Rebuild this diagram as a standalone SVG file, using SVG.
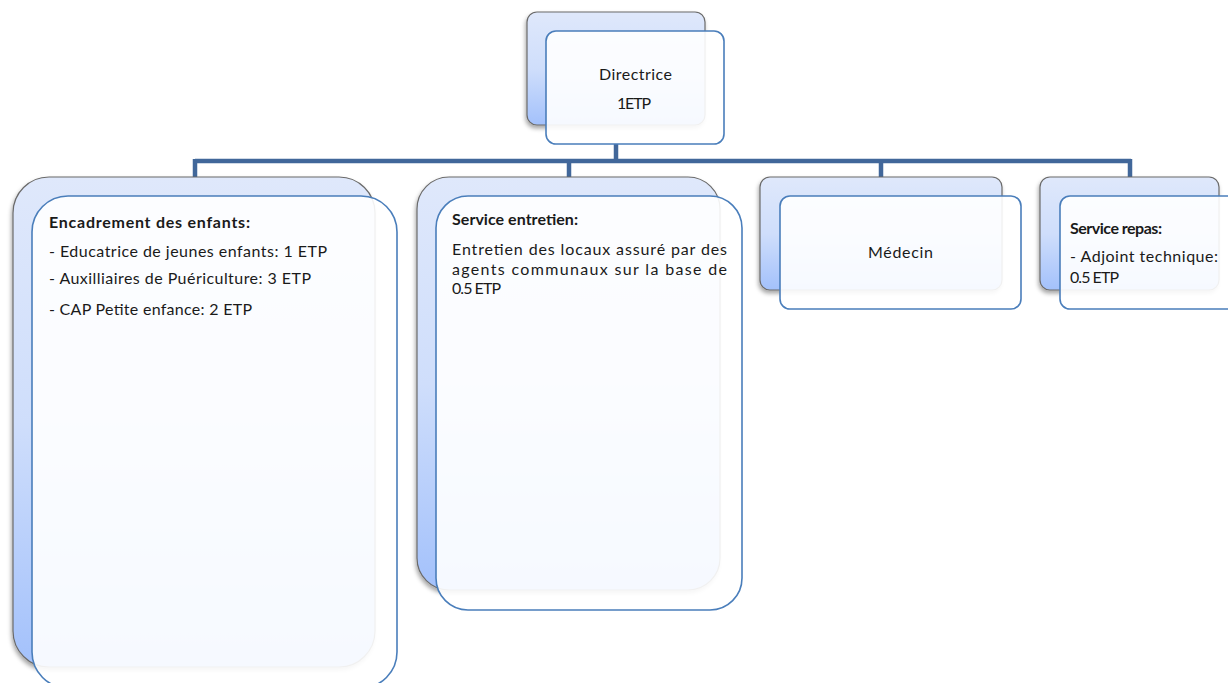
<svg xmlns="http://www.w3.org/2000/svg" width="1228" height="683" viewBox="0 0 1228 683">
<defs>
<linearGradient id="bg" x1="0" y1="0" x2="0" y2="1">
<stop offset="0" stop-color="#dfe8fb"/>
<stop offset="0.5" stop-color="#cfdefb"/>
<stop offset="1" stop-color="#a3c1fb"/>
</linearGradient>
<filter id="sh" x="-10%" y="-10%" width="120%" height="120%">
<feDropShadow dx="-1" dy="3" stdDeviation="2" flood-color="#000" flood-opacity="0.35"/>
</filter>
</defs>
<style>
.back{fill:url(#bg);stroke:#6b6b6b;stroke-width:1.2;filter:url(#sh)}
.front{fill:#ffffff;fill-opacity:0.9;stroke:#4a7ebb;stroke-width:1.6}
.t{font-family:Lato,"Liberation Sans",sans-serif;font-size:16px;fill:#1a1a1a}
.b{font-weight:bold}
.conn{stroke:#41679a;stroke-width:4.5;fill:none}
</style>
<rect width="1228" height="683" fill="#ffffff"/>
<g id="connectors">
<path class="conn" d="M616 144 V161 M195 161 H1131 M195 159 V178 M569 159 V178 M881 159 V178 M1130 159 V178"/>
</g>
<g id="directrice">
<rect class="back" x="527" y="12" width="178" height="113" rx="10"/>
<rect class="front" x="546" y="31" width="178" height="113" rx="10"/>
<text class="t" x="599" y="80" textLength="73">Directrice</text>
<text class="t" x="617" y="109" textLength="34">1ETP</text>
</g>
<g id="encadrement">
<rect class="back" x="13" y="177" width="362" height="490" rx="36"/>
<rect class="front" x="32" y="196" width="365" height="492" rx="36"/>
<text class="t b" x="49" y="228" textLength="201">Encadrement des enfants:</text>
<text class="t" x="49" y="257" textLength="278">- Educatrice de jeunes enfants: 1 ETP</text>
<text class="t" x="49" y="284" textLength="262">- Auxilliaires de Puériculture: 3 ETP</text>
<text class="t" x="49" y="315" textLength="203">- CAP Petite enfance: 2 ETP</text>
</g>
<g id="entretien">
<rect class="back" x="417" y="177" width="303" height="413" rx="32"/>
<rect class="front" x="436" y="196" width="306" height="414" rx="32"/>
<text class="t b" x="452" y="225" textLength="126">Service entretien:</text>
<text class="t" x="452" y="255" textLength="275">Entretien des locaux assuré par des</text>
<text class="t" x="452" y="275" textLength="275">agents communaux sur la base de</text>
<text class="t" x="452" y="294" textLength="49">0.5 ETP</text>
</g>
<g id="medecin">
<rect class="back" x="760" y="177" width="242" height="113" rx="10"/>
<rect class="front" x="780" y="196" width="241" height="113" rx="10"/>
<text class="t" x="868" y="258" textLength="65">Médecin</text>
</g>
<g id="repas">
<rect class="back" x="1040" y="177" width="179" height="113" rx="10"/>
<rect class="front" x="1060" y="196" width="180" height="113" rx="10"/>
<text class="t b" x="1070" y="234" textLength="92">Service repas:</text>
<text class="t" x="1070" y="262" textLength="148">- Adjoint technique:</text>
<text class="t" x="1070" y="283" textLength="49">0.5 ETP</text>
</g>
</svg>
